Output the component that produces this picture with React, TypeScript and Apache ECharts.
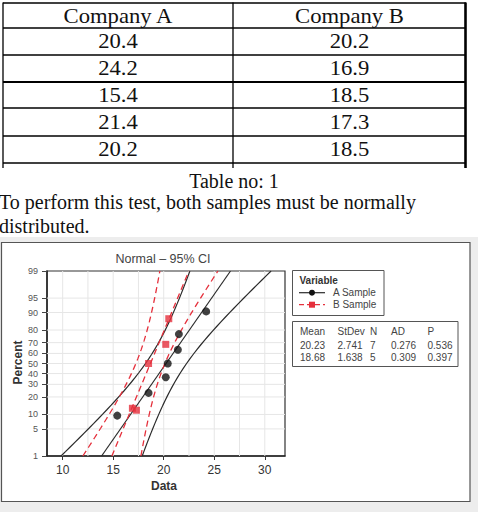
import React, { useEffect, useRef } from "react";
import * as echarts from "echarts";

// ---- Table data ----
const tableHeaders = ["Company A", "Company B"];
const companyA = [20.4, 24.2, 15.4, 21.4, 20.2];
const companyB = [20.2, 16.9, 18.5, 17.3, 18.5];
const caption = "Table no: 1";
const bodyLines = ["To perform this test, both samples must be normally", "distributed."];

// ---- Probability plot data ----
const plotTitle = "Normal \u2013 95% CI";
const xAxisName = "Data";
const yAxisName = "Percent";
const percentTicks = [1, 5, 10, 20, 30, 40, 50, 60, 70, 80, 90, 95, 99];
const xTicks = [10, 15, 20, 25, 30];
const xGridValues = [10, 12.5, 15, 17.5, 20, 22.5, 25, 27.5, 30];
const xMin = 8.45;
const xMax = 32;

const sampleAValues = [15.4, 18.5, 20.2, 20.4, 21.4, 21.5, 24.2];
const sampleAPercents = [9.5, 23.0, 36.5, 50.0, 63.5, 77.0, 90.5];
const sampleBValues = [16.9, 17.3, 18.5, 20.2, 20.5];
const sampleBPercents = [13.0, 12.0, 50.0, 68.5, 87.0];

const legendTitle = "Variable";
const legendNames = ["A Sample", "B Sample"];
const statHeaders = ["Mean", "StDev", "N", "AD", "P"];
const statMeans = [20.23, 18.68];
const statStDevs = [2.741, 1.638];
const statNs = [7, 5];
const statADs = [0.276, 0.309];
const statPs = [0.536, 0.397];

const BLACK = "#2b2b2b";
const RED = "#e5303c";
const GRIDC = "#e6e6e6";

// inverse standard normal CDF (Acklam) – converts percent to probability-scale position
function normInv(p: number): number {
  const a = [-39.69683028665376, 220.9460984245205, -275.9285104469687, 138.357751867269, -30.66479806614716, 2.506628277459239];
  const b = [-54.47609879822406, 161.5858368580409, -155.6989798598866, 66.80131188771972, -13.28068155288572];
  const c = [-0.007784894002430293, -0.3223964580411365, -2.400758277161838, -2.549732539343734, 4.374664141464968, 2.938163982698783];
  const d = [0.007784695709041462, 0.3224671290700398, 2.445134137142996, 3.754408661907416];
  const plow = 0.02425;
  if (p < plow) {
    const q = Math.sqrt(-2 * Math.log(p));
    return (((((c[0] * q + c[1]) * q + c[2]) * q + c[3]) * q + c[4]) * q + c[5]) / ((((d[0] * q + d[1]) * q + d[2]) * q + d[3]) * q + 1);
  }
  if (p <= 1 - plow) {
    const q = p - 0.5;
    const r = q * q;
    return ((((((a[0] * r + a[1]) * r + a[2]) * r + a[3]) * r + a[4]) * r + a[5]) * q) / (((((b[0] * r + b[1]) * r + b[2]) * r + b[3]) * r + b[4]) * r + 1);
  }
  const q = Math.sqrt(-2 * Math.log(1 - p));
  return -(((((c[0] * q + c[1]) * q + c[2]) * q + c[3]) * q + c[4]) * q + c[5]) / ((((d[0] * q + d[1]) * q + d[2]) * q + d[3]) * q + 1);
}

const zTicks = percentTicks.map((p) => normInv(p / 100));
const zMin = zTicks[0];
const zMax = zTicks[zTicks.length - 1];

// fitted line and 95% CI bands from the displayed mean / stdev / N
function fitSeries(k: number) {
  const m = statMeans[k];
  const s = statStDevs[k];
  const n = statNs[k];
  const steps = 40;
  const mid: number[][] = [];
  const lo: number[][] = [];
  const hi: number[][] = [];
  for (let i = 0; i <= steps; i++) {
    const z = zMin + ((zMax - zMin) * i) / steps;
    const x = m + z * s;
    const h = 1.96 * s * Math.sqrt(1 / n + (z * z) / (2 * n - 1));
    mid.push([x, z]);
    lo.push([x - h, z]);
    hi.push([x + h, z]);
  }
  return { mid: [mid[0], mid[steps]], lo, hi };
}

const SERIF = '"Liberation Serif", "Times New Roman", serif';
const SANS = '"Liberation Sans", Arial, sans-serif';

export default function App() {
  const ref = useRef<HTMLDivElement>(null);

  useEffect(() => {
    if (!ref.current) return;
    const chart = echarts.init(ref.current, null, { renderer: "svg" });

    const fitA = fitSeries(0);
    const fitB = fitSeries(1);

    const txt = (text: string, x: number, y: number, opts: any = {}) => ({
      type: "text",
      x,
      y,
      z: 100,
      rotation: opts.rotation || 0,
      scaleX: opts.scaleX || 1,
      style: {
        text,
        fill: opts.fill || "#111",
        fontSize: opts.fontSize || 12,
        fontFamily: opts.fontFamily || SANS,
        fontWeight: opts.fontWeight || "normal",
        align: opts.align || "left",
        verticalAlign: "middle",
        textAlign: opts.align || "left",
        textVerticalAlign: "middle",
      },
    });
    const ln = (x1: number, y1: number, x2: number, y2: number, w: number, color = "#000", dash?: number[], z = 50) => {
      const style: any = { stroke: color, lineWidth: w };
      if (dash) style.lineDash = dash;
      return { type: "line", z, shape: { x1, y1, x2, y2 }, style };
    };

    const elements: any[] = [];

    // ---- table ----
    const rowLines = [3, 28, 55, 82, 108, 136, 163];
    rowLines.forEach((y, i) => elements.push(ln(3, y, 466, y, i === 3 ? 2.2 : 1.3)));
    elements.push(ln(3, 2.5, 3, 168, 1.3));
    elements.push(ln(233, 2.5, 233, 168, 1.3));
    elements.push(ln(465.5, 2.5, 465.5, 168, 2.6));
    const colCenters = [118, 349.5];
    const rowCenters = [41.5, 68.3, 95.2, 122.5, 149.5];
    const tOpts = { fontSize: 21, fontFamily: SERIF, align: "center", scaleX: 1.08 };
    tableHeaders.forEach((h, i) => elements.push(txt(h, colCenters[i], 16.5, tOpts)));
    companyA.forEach((v, r) => elements.push(txt(v.toFixed(1), colCenters[0], rowCenters[r], tOpts)));
    companyB.forEach((v, r) => elements.push(txt(v.toFixed(1), colCenters[1], rowCenters[r], tOpts)));

    elements.push(txt(caption, 234, 180.5, { fontSize: 20, fontFamily: SERIF, align: "center" }));
    elements.push(txt(bodyLines[0], -1, 201.5, { fontSize: 20, fontFamily: SERIF }));
    elements.push(txt(bodyLines[1], -1, 225.5, { fontSize: 20, fontFamily: SERIF }));

    // ---- chart frame ----
    elements.push({ type: "rect", z: -20, shape: { x: 0, y: 237, width: 478, height: 275 }, style: { fill: "#ededed" } });
    elements.push({ type: "rect", z: -10, shape: { x: 1.5, y: 242.5, width: 468.5, height: 259 }, style: { fill: "#fff", stroke: "#555", lineWidth: 1.2 } });

    elements.push(txt(plotTitle, 163, 259, { fontSize: 12.5, fill: "#444", align: "center" }));
    elements.push(txt(xAxisName, 164, 486, { fontSize: 12, fill: "#333", fontWeight: "bold", align: "center" }));
    elements.push(txt(yAxisName, 17.5, 362.5, { fontSize: 12, fill: "#333", fontWeight: "bold", align: "center", rotation: Math.PI / 2 }));

    // ---- legend box ----
    elements.push({ type: "rect", z: 40, shape: { x: 292.5, y: 270.5, width: 91.5, height: 45 }, style: { fill: "#fff", stroke: "#555", lineWidth: 1 } });
    elements.push(txt(legendTitle, 299.5, 280.5, { fontSize: 10, fill: "#333", fontWeight: "bold" }));
    const legY = [292.7, 304.7];
    elements.push(ln(299, legY[0], 325, legY[0], 1.2, BLACK));
    elements.push({ type: "circle", z: 60, shape: { cx: 312, cy: legY[0], r: 3 }, style: { fill: "#111" } });
    elements.push(ln(299, legY[1], 325, legY[1], 1.3, RED, [5, 3]));
    elements.push({ type: "rect", z: 60, shape: { x: 309, y: legY[1] - 3, width: 6, height: 6 }, style: { fill: RED } });
    legendNames.forEach((n, i) => elements.push(txt(n, 333, legY[i], { fontSize: 10, fill: "#444" })));

    // ---- stats box ----
    elements.push({ type: "rect", z: 40, shape: { x: 292.5, y: 321.5, width: 165.5, height: 45 }, style: { fill: "#fff", stroke: "#555", lineWidth: 1 } });
    const statX = [300, 337.5, 370, 391, 427.5];
    const statY = [331.5, 345, 357];
    statHeaders.forEach((h, i) => elements.push(txt(h, statX[i], statY[0], { fontSize: 10, fill: "#444" })));
    [0, 1].forEach((k) => {
      const vals = [statMeans[k].toFixed(2), statStDevs[k].toFixed(3), String(statNs[k]), statADs[k].toFixed(3), statPs[k].toFixed(3)];
      vals.forEach((v, i) => elements.push(txt(v, statX[i], statY[k + 1], { fontSize: 10, fill: "#444" })));
    });

    const curve = (data: number[][], red: boolean) => ({
      type: "line",
      data,
      showSymbol: false,
      symbol: "none",
      silent: true,
      z: red ? 4 : 3,
      lineStyle: red ? { color: RED, width: 1.3, type: [6, 4] } : { color: BLACK, width: 1.2 },
    });

    const gridSeries: any[] = [
      ...xGridValues.map((v) => ({
        type: "line",
        data: [[v, zMin], [v, zMax]],
        showSymbol: false,
        symbol: "none",
        silent: true,
        z: 1,
        lineStyle: { color: GRIDC, width: 1 },
      })),
      ...zTicks.slice(1, -1).map((z) => ({
        type: "line",
        data: [[xMin, z], [xMax, z]],
        showSymbol: false,
        symbol: "none",
        silent: true,
        z: 1,
        lineStyle: { color: GRIDC, width: 1 },
      })),
    ];

    const option: any = {
      animation: false,
      backgroundColor: "#fff",
      graphic: { elements },
      grid: { left: 47, top: 271, width: 238, height: 185, show: true, borderColor: "#333", borderWidth: 1.2, backgroundColor: "transparent" },
      xAxis: {
        type: "value",
        min: xMin,
        max: xMax,
        axisLine: { show: true, onZero: false, lineStyle: { color: "#222", width: 1.5 } },
        axisTick: { show: true, length: 4, customValues: xTicks, lineStyle: { color: "#333" } },
        axisLabel: { customValues: xTicks, color: "#333", fontSize: 12, fontFamily: SANS, margin: 8 },
        splitLine: { show: false },
      },
      yAxis: {
        type: "value",
        min: zMin,
        max: zMax,
        axisLine: { show: true, onZero: false, lineStyle: { color: "#222", width: 1.5 } },
        axisTick: { show: true, length: 5, customValues: zTicks, lineStyle: { color: "#444" } },
        axisLabel: {
          customValues: zTicks,
          color: "#555",
          fontSize: 9,
          fontFamily: SANS,
          margin: 9,
          formatter: (v: number) => {
            const i = zTicks.findIndex((z) => Math.abs(z - v) < 1e-6);
            return i >= 0 ? String(percentTicks[i]) : "";
          },
        },
        splitLine: { show: false },
      },
      series: [
        ...gridSeries,
        curve(fitA.lo, false),
        curve(fitA.mid, false),
        curve(fitA.hi, false),
        curve(fitB.lo, true),
        curve(fitB.mid, true),
        curve(fitB.hi, true),
        {
          type: "scatter",
          name: legendNames[0],
          symbol: "circle",
          symbolSize: 8,
          silent: true,
          itemStyle: { color: "#111" },
          data: sampleAValues.map((v, i) => [v, normInv(sampleAPercents[i] / 100)]),
          z: 5,
        },
        {
          type: "scatter",
          name: legendNames[1],
          symbol: "rect",
          symbolSize: 7,
          silent: true,
          itemStyle: { color: RED },
          data: sampleBValues.map((v, i) => [v, normInv(sampleBPercents[i] / 100)]),
          z: 5,
        },
      ],
    };

    chart.setOption(option);
    return () => chart.dispose();
  }, []);

  return <div ref={ref} style={{ position: "absolute", left: 0, top: 0, width: 478, height: 512, background: "#fff" }} />;
}
